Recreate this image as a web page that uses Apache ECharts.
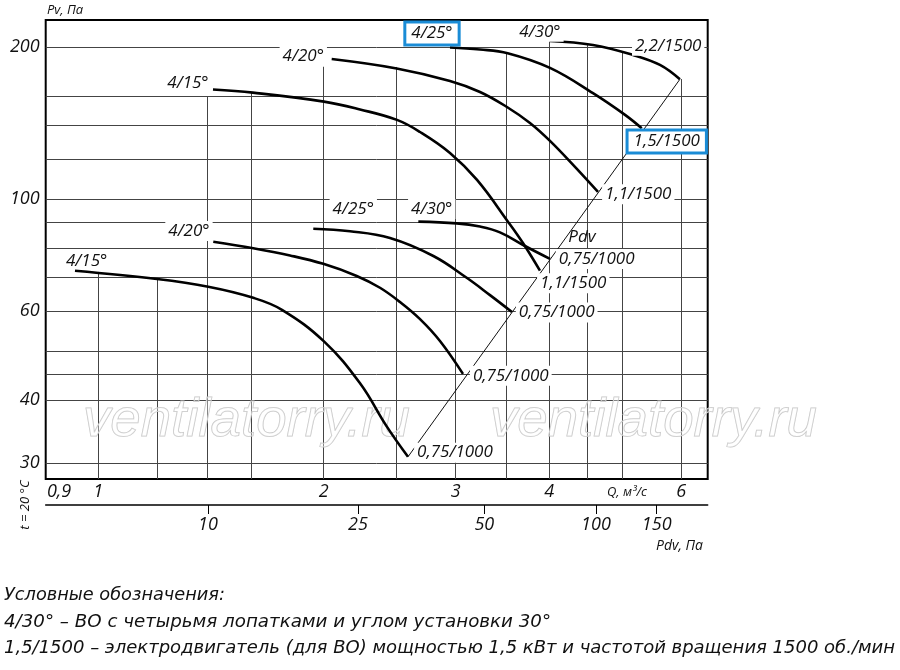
<!DOCTYPE html>
<html><head><meta charset="utf-8">
<script src="https://cdn.jsdelivr.net/npm/echarts@6/dist/echarts.min.js"></script>
<style>html,body{margin:0;padding:0;background:#fff}#c{width:900px;height:670px}</style>
</head><body><div id="c"></div>
<script>
// ---------- axes (log-log) ----------
const qMin = 0.8507, qMax = 6.5116;
const pvMin = 27.93, pvMax = 226.45;
const qTickLabels = [0.9, 1, 2, 3, 4, 6];
const pvTickLabels = [30, 40, 60, 100, 200];
const pdvTickValues = [10, 25, 50, 100, 150];
const pdvTickAtQ = [1.401, 2.222, 3.277, 4.618, 5.567];
const hGridPv = [30, 40, 45, 50, 60, 70, 80, 90, 100, 120, 140, 160, 200];
const vGridQ = [1, 1.2, 1.4, 1.6, 2, 2.5, 3, 3.5, 4, 4.5, 5, 6];
const vGridTopPv = [71.8, 69.9, 160, 163, 184, 182.8, 200, 194, 205.8, 202, 195, 173];

// ---------- curves: Q (m3/s) and Pv (Pa) ----------
// upper group, 1500 rpm
const u15Q  = [1.4227, 1.6087, 2.0014, 2.2360, 2.5050, 2.6890, 2.9484, 3.2039, 3.5237, 3.6899, 3.8878];
const u15Pv = [165.0, 162.6, 156.1, 150.6, 143.6, 135.9, 123.5, 109.2, 90.3, 81.9, 72.2];
const u20Q  = [2.0494, 2.5027, 2.9484, 3.2336, 3.5128, 3.7701, 4.0095, 4.3299, 4.6471];
const u20Pv = [189.6, 181.6, 171.5, 163.1, 152.3, 141.6, 130.5, 115.9, 103.4];
const u25Q  = [2.9484, 3.2336, 3.5205, 4.0095, 4.5762, 5.0503, 5.3163];
const u25Pv = [199.8, 198.0, 194.6, 182.0, 162.2, 146.9, 138.2];
const u30Q  = [4.0095, 4.5762, 5.1759, 5.6226, 5.978];
const u30Pv = [205.8, 202.1, 193.1, 184.5, 172.8];
// lower group, 1000 rpm
const l15Q  = [0.9308, 1.1979, 1.4023, 1.6102, 1.7589, 2.0014, 2.2360, 2.4270, 2.5912];
const l15Pv = [72.2, 69.5, 67.1, 63.8, 60.4, 52.3, 43.2, 35.5, 30.9];
const l20Q  = [1.4240, 1.6102, 1.8030, 1.9971, 2.2134, 2.3775, 2.5282, 2.6890, 2.8590, 3.0686];
const l20Pv = [82.4, 80.0, 77.4, 74.5, 70.5, 66.8, 62.6, 57.9, 52.4, 45.1];
const l25Q  = [1.9367, 2.1683, 2.4517, 2.8016, 3.1037, 3.3343, 3.5673];
const l25Pv = [87.4, 86.4, 83.8, 77.2, 69.9, 64.6, 59.8];
const l30Q  = [2.6750, 3.0096, 3.2336, 3.4380, 3.7126, 4.0095];
const l30Pv = [90.3, 89.6, 88.3, 86.0, 80.8, 76.2];
// dynamic pressure line Pdv
const pdvLineQ  = [2.5912, 5.978];
const pdvLinePv = [30.9, 172.8];

const curveAngles = ['4/15°', '4/20°', '4/25°', '4/30°', '4/15°', '4/20°', '4/25°', '4/30°'];
const curveMotors = ['1,1/1500', '1,1/1500', '1,5/1500', '2,2/1500', '0,75/1000', '0,75/1000', '0,75/1000', '0,75/1000'];

// ---------- layout / style (not data) ----------
const curveQ = [u15Q, u20Q, u25Q, u30Q, l15Q, l20Q, l25Q, l30Q];
const curvePv = [u15Pv, u20Pv, u25Pv, u30Pv, l15Pv, l20Pv, l25Pv, l30Pv];
const startOff = [[-25,-6.5],[-28.4,-2.3],[-18,-14],[-10,-9.3],[11.7,-9.7],[-24.3,-10.7],[40,-20],[13.4,-12.7]];
const endOff = [[33.3,12.6],[40.3,2.2],[25,13.2],[-11.7,-33.5],[47,-4.2],[47.8,1.8],[44.7,0.5],[46.7,0.2]];
const boxed = [false, false, true, false, false, false, false, false];
const startBg = [true, true, true, true, false, true, true, true];

const FONT = "'Open Sans', 'DejaVu Sans', sans-serif";
const NARROW = "'Liberation Sans Narrow', 'DejaVu Sans Condensed', sans-serif";
const BLUE = '#1a8cd6';
const INK = '#111';

function mkLabel(text, off, isBoxed, bg) {
  const l = {
    show: true, position: 'inside', offset: off, formatter: text,
    fontFamily: FONT, fontStyle: 'italic', fontSize: 17, color: INK,
    align: 'center', verticalAlign: 'middle'
  };
  if (isBoxed) {
    l.backgroundColor = '#fff'; l.borderColor = BLUE; l.borderWidth = 3; l.padding = [2, 5, 1, 5];
  } else if (bg) {
    l.backgroundColor = '#fff'; l.padding = [3, 3, 0, 3];
  }
  return l;
}

const curveSeries = curveQ.map((qs, ci) => ({
  type: 'line', z: 3, smooth: 0.4, symbol: 'circle', symbolSize: 1,
  showSymbol: true, showAllSymbol: true, silent: true, animation: false,
  itemStyle: { color: 'rgba(0,0,0,0)' },
  lineStyle: { color: '#000', width: 2.6 },
  emphasis: { disabled: true },
  data: qs.map((q, i) => {
    const item = { value: [q, curvePv[ci][i]] };
    if (i === 0) item.label = mkLabel(curveAngles[ci], startOff[ci], boxed[ci], startBg[ci]);
    else if (i === qs.length - 1) item.label = mkLabel(curveMotors[ci], endOff[ci], boxed[ci], true);
    return item;
  })
}));

const gridLineData = hGridPv.map(v => ({ coords: [[qMin, v], [qMax, v]] }))
  .concat(vGridQ.map((q, i) => ({ coords: [[q, pvMin], [q, vGridTopPv[i]]] })));

// text measuring for fitting widths
const mctx = document.createElement('canvas').getContext('2d');
function measure(text, font) { mctx.font = font; return mctx.measureText(text).width; }

const legendLines = [
  'Условные обозначения:',
  '4/30° – ВО с четырьмя лопатками и углом установки 30°',
  '1,5/1500 – электродвигатель (для ВО) мощностью 1,5 кВт и частотой вращения 1500 об./мин'
];
const legendY = [595, 622.5, 648.5];
const legendW = [221, 547, 891];
const legendFont = "italic 18px " + NARROW;

const wmText = 'ventilatorry.ru';
const wmFont = "italic 54px 'Liberation Sans', Arial, sans-serif";
const wmX = [83, 490];
const wmW = 327;

const graphics = [];
wmX.forEach(x => {
  const s = wmW / measure(wmText, wmFont);
  graphics.push({ type: 'text', x: x, y: 421, scaleX: s, z: 2, silent: true,
    style: { text: wmText, fontStyle: 'italic', fontSize: 54, fontFamily: "'Liberation Sans', Arial, sans-serif",
      fill: 'rgba(255,255,255,0.35)', stroke: '#c6c6c6', lineWidth: 1,
      align: 'left', textAlign: 'left', verticalAlign: 'middle', textVerticalAlign: 'middle' } });
});
legendLines.forEach((t, i) => {
  const s = legendW[i] / measure(t, legendFont);
  graphics.push({ type: 'text', x: 4, y: legendY[i], scaleX: s, z: 5,
    style: { text: t, fontStyle: 'italic', fontSize: 18, fontFamily: NARROW, fill: INK,
      align: 'left', textAlign: 'left', verticalAlign: 'middle', textVerticalAlign: 'middle' } });
});
function txt(t, x, y, size, align, extra) {
  return Object.assign({ type: 'text', x: x, y: y, z: 5,
    style: { text: t, fontStyle: 'italic', fontSize: size, fontFamily: FONT, fill: INK,
      align: align, textAlign: align, verticalAlign: 'middle', textVerticalAlign: 'middle' } }, extra || {});
}
graphics.push(txt('Pv, Па', 47, 10, 13, 'left'));
graphics.push(txt('Q, м³/с', 607, 492, 13, 'left'));
graphics.push(txt('Pdv, Па', 703, 546, 14, 'right'));
graphics.push(txt('Pdv', 582, 237.5, 17, 'center'));
graphics.push(txt('t = 20 °C', 25, 505, 13, 'center', { rotation: Math.PI / 2 }));

const axisFont = { fontFamily: FONT, fontStyle: 'italic', fontSize: 18, color: INK };

const option = {
  backgroundColor: '#fff',
  animation: false,
  grid: { left: 45.7, right: 192.3, top: 20, bottom: 191, show: true, borderColor: '#000', borderWidth: 2,
          backgroundColor: 'transparent', containLabel: false, outerBoundsMode: 'none' },
  xAxis: [
    { type: 'log', logBase: 10, min: qMin, max: qMax, position: 'bottom',
      axisLine: { show: false }, axisTick: { show: false }, splitLine: { show: false }, minorTick: { show: false },
      axisLabel: Object.assign({ customValues: qTickLabels, margin: 4,
        formatter: v => { const s = String(+(+v).toFixed(2)).replace('.', ','); return (+v < 0.95) ? '{l|' + s + '}' : s; },
        rich: { l: { padding: [0, 10, 0, 0], fontFamily: FONT, fontStyle: 'italic', fontSize: 18, color: INK } } }, axisFont) },
    { type: 'log', logBase: 10, min: qMin, max: qMax, position: 'bottom', offset: 26,
      axisLine: { show: true, onZero: false, lineStyle: { color: '#000', width: 1.5 } },
      axisTick: { show: true, customValues: pdvTickAtQ, length: 9, lineStyle: { color: '#000', width: 1 } },
      splitLine: { show: false },
      axisLabel: Object.assign({ customValues: pdvTickAtQ, margin: 11,
        formatter: v => { let b = 0; pdvTickAtQ.forEach((q, i) => { if (Math.abs(q - v) < Math.abs(pdvTickAtQ[b] - v)) b = i; }); return String(pdvTickValues[b]); } }, axisFont) }
  ],
  yAxis: [
    { type: 'log', logBase: 10, min: pvMin, max: pvMax,
      axisLine: { show: false }, axisTick: { show: false }, splitLine: { show: false },
      axisLabel: Object.assign({ customValues: pvTickLabels, margin: 6,
        formatter: v => String(Math.round(v)) }, axisFont) }
  ],
  graphic: { elements: graphics },
  series: [
    { type: 'lines', coordinateSystem: 'cartesian2d', xAxisIndex: 0, yAxisIndex: 0, z: 1, silent: true,
      polyline: false, lineStyle: { color: '#444', width: 1, opacity: 1 }, effect: { show: false },
      data: gridLineData },
    { type: 'line', z: 2, symbol: 'none', silent: true, animation: false,
      lineStyle: { color: '#111', width: 1 },
      data: pdvLineQ.map((q, i) => [q, pdvLinePv[i]]) }
  ].concat(curveSeries)
};

const chart = echarts.init(document.getElementById('c'), null, { width: 900, height: 670 });
chart.setOption(option);
</script>
</body></html>
